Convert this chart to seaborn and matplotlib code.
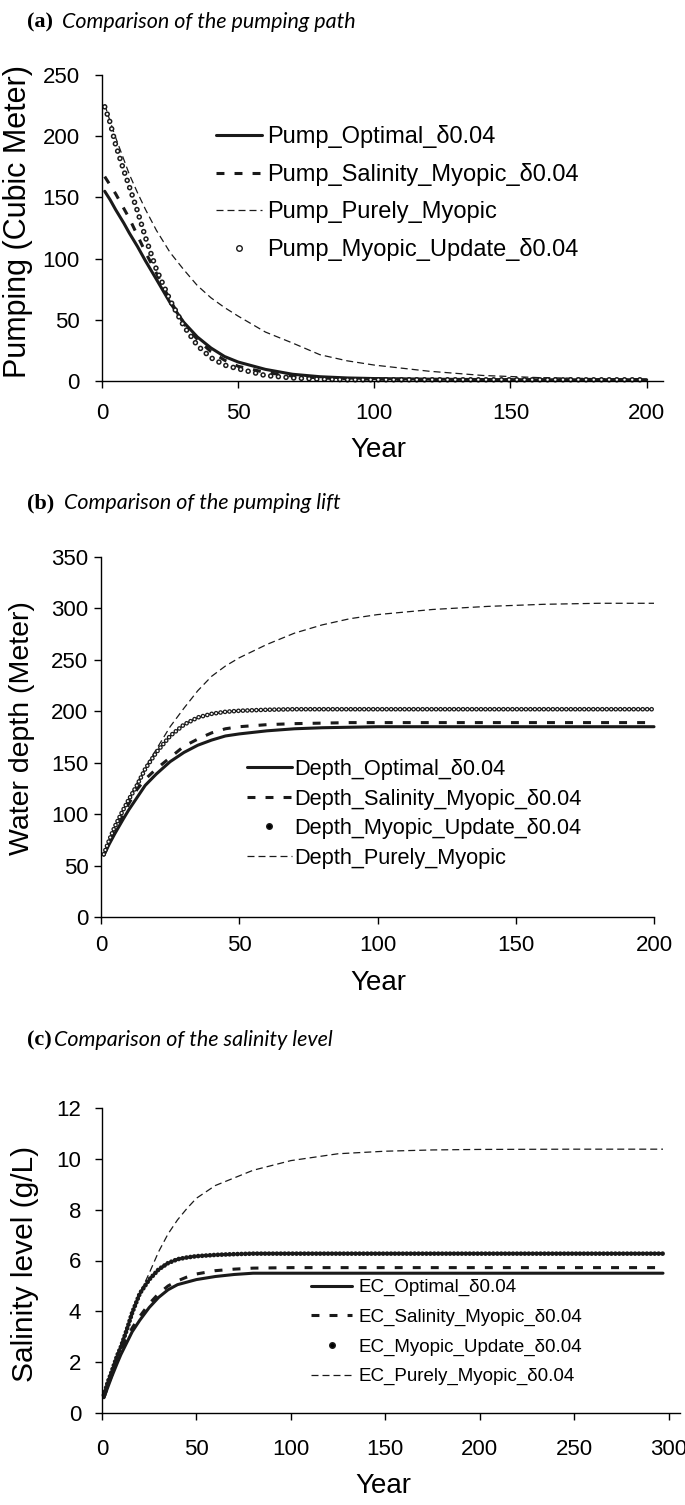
import matplotlib
matplotlib.use("Agg")
import matplotlib.pyplot as plt
import seaborn as sns
from matplotlib.lines import Line2D

# ---- data ----
years_a = [1, 3, 5, 8, 10, 13, 16, 20, 25, 30, 35, 40, 45, 50, 60, 70, 80, 90, 100, 120, 140, 160, 180, 200]
pump_optimal = [155, 148, 140, 129, 121, 110, 98, 83, 64, 48, 36, 27, 20, 15.5, 9.5, 5.5, 3.5, 2.5, 2, 1.5, 1.2, 1, 1, 1]
pump_salinity = [167, 160, 153, 141, 133, 119, 105, 88, 66, 47, 34, 24, 17, 12, 7, 4, 2.5, 1.8, 1.5, 1.2, 1, 1, 1, 1]
pump_purely = [226, 212, 199, 181, 169, 154, 140, 123, 105, 91, 78, 68, 60, 53, 40, 31, 21.5, 16.5, 13, 8, 4.5, 2.8, 2, 1.5]
pump_update = [224, 211, 193, 172, 159, 139, 117, 91, 66, 45, 29, 19, 13, 10, 4.5, 2.5, 1.5, 1, 1, 1, 1, 1, 1, 1]

years_b = [1, 3, 5, 8, 10, 13, 16, 20, 25, 30, 35, 40, 45, 50, 60, 70, 80, 90, 100, 120, 140, 160, 180, 200]
depth_optimal = [60, 71, 81, 95, 104, 116, 128, 139, 151, 160, 167, 172, 176, 178, 181, 183, 184, 184.5, 185, 185, 185, 185, 185, 185]
depth_salinity = [60, 72, 83, 99, 110, 124, 134, 144, 155, 166, 173, 179, 183, 185, 187, 188, 188.5, 189, 189, 189, 189, 189, 189, 189]
depth_update = [61, 75, 88, 104, 114, 128, 144, 160, 176, 187, 194, 197.5, 199.5, 200.5, 201.5, 202, 202, 202, 202, 202, 202, 202, 202, 202]
depth_purely = [61, 75, 88, 105, 115, 130, 145, 163, 185, 203, 220, 234, 244, 252, 265, 276, 284, 290, 294, 299, 302, 304, 305, 305]

years_c = [1, 3, 5, 8, 10, 13, 16, 20, 25, 30, 35, 40, 45, 50, 60, 70, 80, 100, 125, 150, 175, 200, 250, 297]
ec_optimal = [0.6, 1.0, 1.4, 1.95, 2.3, 2.75, 3.2, 3.65, 4.15, 4.55, 4.85, 5.05, 5.15, 5.25, 5.37, 5.45, 5.5, 5.5, 5.5, 5.5, 5.5, 5.5, 5.5, 5.5]
ec_salinity = [0.6, 1.05, 1.45, 2.05, 2.4, 2.9, 3.35, 3.8, 4.3, 4.7, 5.0, 5.2, 5.35, 5.47, 5.6, 5.66, 5.7, 5.72, 5.72, 5.72, 5.72, 5.72, 5.72, 5.72]
ec_update = [0.7, 1.2, 1.6, 2.25, 2.6, 3.25, 3.95, 4.7, 5.25, 5.65, 5.9, 6.05, 6.12, 6.17, 6.22, 6.25, 6.27, 6.27, 6.27, 6.27, 6.27, 6.27, 6.27, 6.27]
ec_purely = [0.7, 1.2, 1.65, 2.3, 2.7, 3.35, 3.95, 4.7, 5.5, 6.35, 7.05, 7.6, 8.05, 8.45, 8.95, 9.25, 9.55, 9.93, 10.2, 10.3, 10.35, 10.37, 10.38, 10.38]

sns.set_theme(style="ticks", rc={
    "axes.edgecolor": "black", "axes.linewidth": 1.0,
    "xtick.color": "black", "ytick.color": "black",
    "xtick.major.size": 5, "ytick.major.size": 5,
    "xtick.major.width": 1.0, "ytick.major.width": 1.0,
    "text.color": "black", "axes.labelcolor": "black",
})
plt.rcParams["font.family"] = ["Liberation Sans", "DejaVu Sans"]

W, H = 685, 1505
fig = plt.figure(figsize=(W / 100, H / 100), dpi=100)


def fx(px):
    return px / W


def fy(py):
    return 1 - py / H


def rect(x0, y0, x1, y1):
    return [fx(x0), fy(y1), (x1 - x0) / W, (y1 - y0) / H]


SAL_DASH = (0, (2.6, 3.3))
PUR_DASH = (0, (5.6, 3.2))


def draw_lines(ax, x, optimal, salinity, purely):
    sns.lineplot(x=x, y=optimal, ax=ax, color="k", lw=2.2, estimator=None, clip_on=False)
    sns.lineplot(x=x, y=salinity, ax=ax, color="k", lw=2.2, linestyle=SAL_DASH, estimator=None, clip_on=False)
    sns.lineplot(x=x, y=purely, ax=ax, color="k", lw=0.9, linestyle=PUR_DASH, estimator=None, clip_on=False)


def dot_chain(ax, x, y, d, period, hollow):
    # chain of round dots along the series (looks like the dense markers)
    sns.lineplot(x=x, y=y, ax=ax, color="k", lw=d, linestyle=(0, (0.01, period / d)),
                 dash_capstyle="round", estimator=None, clip_on=False)
    if hollow:
        inner = d * 0.45
        sns.lineplot(x=x, y=y, ax=ax, color="white", lw=inner,
                     linestyle=(0, (0.01 * d / inner, period / inner)),
                     dash_capstyle="round", estimator=None, clip_on=False)


def style(ax, xlim, xticks, ylim, yticks, xpad, ypad):
    ax.set_xlim(*xlim)
    ax.set_ylim(*ylim)
    ax.set_xticks(xticks)
    ax.set_yticks(yticks)
    sns.despine(ax=ax)
    ax.tick_params(axis="x", pad=xpad, labelsize=16)
    ax.tick_params(axis="y", pad=ypad, labelsize=16)


def legend(ax, handles, labels, x, y, fs, hl, htp, ls):
    ax.legend(handles, labels, loc="upper left", bbox_to_anchor=(fx(x), fy(y)),
              bbox_transform=fig.transFigure, frameon=False, fontsize=fs,
              handlelength=hl, handletextpad=htp, labelspacing=ls,
              borderpad=0, borderaxespad=0)


def handles(fill):
    return [Line2D([], [], color="k", lw=2.2),
            Line2D([], [], color="k", lw=2.2, ls=SAL_DASH),
            Line2D([], [], color="k", lw=0.9, ls=PUR_DASH),
            Line2D([], [], ls="none", marker="o", ms=4, mfc=fill, mec="k", mew=1)]


def title(x1, x2, y, tag, text):
    fig.text(fx(x1), fy(y), tag, family="Liberation Serif", weight="bold", fontsize=16, va="center")
    fig.text(fx(x2), fy(y), text, family="Lato", style="italic", fontsize=15.5, va="center")


# ---- (a) pumping path ----
ax_a = fig.add_axes(rect(102, 75, 663, 381))
draw_lines(ax_a, years_a, pump_optimal, pump_salinity, pump_purely)
dot_chain(ax_a, years_a, pump_update, 4.0, 5.5, True)
style(ax_a, (0, 206), [0, 50, 100, 150, 200], (0, 250), range(0, 251, 50), 11, 11)
ax_a.set_ylabel("Pumping (Cubic Meter)", fontsize=22, va="center")
ax_a.yaxis.set_label_coords(fx(18), fy(222), transform=fig.transFigure)
ax_a.set_xlabel("Year", fontsize=20, va="center")
ax_a.xaxis.set_label_coords(fx(378), fy(450), transform=fig.transFigure)
h = handles("white")
legend(ax_a, [h[0], h[1], h[2], h[3]],
       ["Pump_Optimal_δ0.04", "Pump_Salinity_Myopic_δ0.04", "Pump_Purely_Myopic",
        "Pump_Myopic_Update_δ0.04"], 216, 125, 17, 1.95, 0.2, 0.64)
title(27, 62, 22, "(a)", "Comparison of the pumping path")

# ---- (b) pumping lift ----
ax_b = fig.add_axes(rect(101, 557, 654, 917))
draw_lines(ax_b, years_b, depth_optimal, depth_salinity, depth_purely)
dot_chain(ax_b, years_b, depth_update, 3.4, 3.2, True)
style(ax_b, (0, 200), [0, 50, 100, 150, 200], (0, 350), range(0, 351, 50), 8, 4)
ax_b.set_ylabel("Water depth (Meter)", fontsize=20.5, va="center")
ax_b.yaxis.set_label_coords(fx(22), fy(728), transform=fig.transFigure)
ax_b.set_xlabel("Year", fontsize=20, va="center")
ax_b.xaxis.set_label_coords(fx(378), fy(983), transform=fig.transFigure)
h = handles("black")
legend(ax_b, [h[0], h[1], h[3], h[2]],
       ["Depth_Optimal_δ0.04", "Depth_Salinity_Myopic_δ0.04", "Depth_Myopic_Update_δ0.04",
        "Depth_Purely_Myopic"], 247, 759, 15.7, 2.05, 0.13, 0.39)
title(27, 64, 503, "(b)", "Comparison of the pumping lift")

# ---- (c) salinity level ----
ax_c = fig.add_axes(rect(102, 1108, 680, 1413))
draw_lines(ax_c, years_c, ec_optimal, ec_salinity, ec_purely)
dot_chain(ax_c, years_c, ec_update, 3.4, 2.8, False)
style(ax_c, (0, 306), [0, 50, 100, 150, 200, 250, 300], (0, 12), range(0, 13, 2), 14, 10)
ax_c.set_ylabel("Salinity level (g/L)", fontsize=21.5, va="center")
ax_c.yaxis.set_label_coords(fx(25), fy(1264), transform=fig.transFigure)
ax_c.set_xlabel("Year", fontsize=20, va="center")
ax_c.xaxis.set_label_coords(fx(383), fy(1486), transform=fig.transFigure)
h = handles("black")
legend(ax_c, [h[0], h[1], h[3], h[2]],
       ["EC_Optimal_δ0.04", "EC_Salinity_Myopic_δ0.04", "EC_Myopic_Update_δ0.04",
        "EC_Purely_Myopic_δ0.04"], 311, 1279, 13.5, 2.2, 0.33, 0.66)
title(27, 54, 1040, "(c)", "Comparison of the salinity level")

fig.savefig("out.png", dpi=100)
